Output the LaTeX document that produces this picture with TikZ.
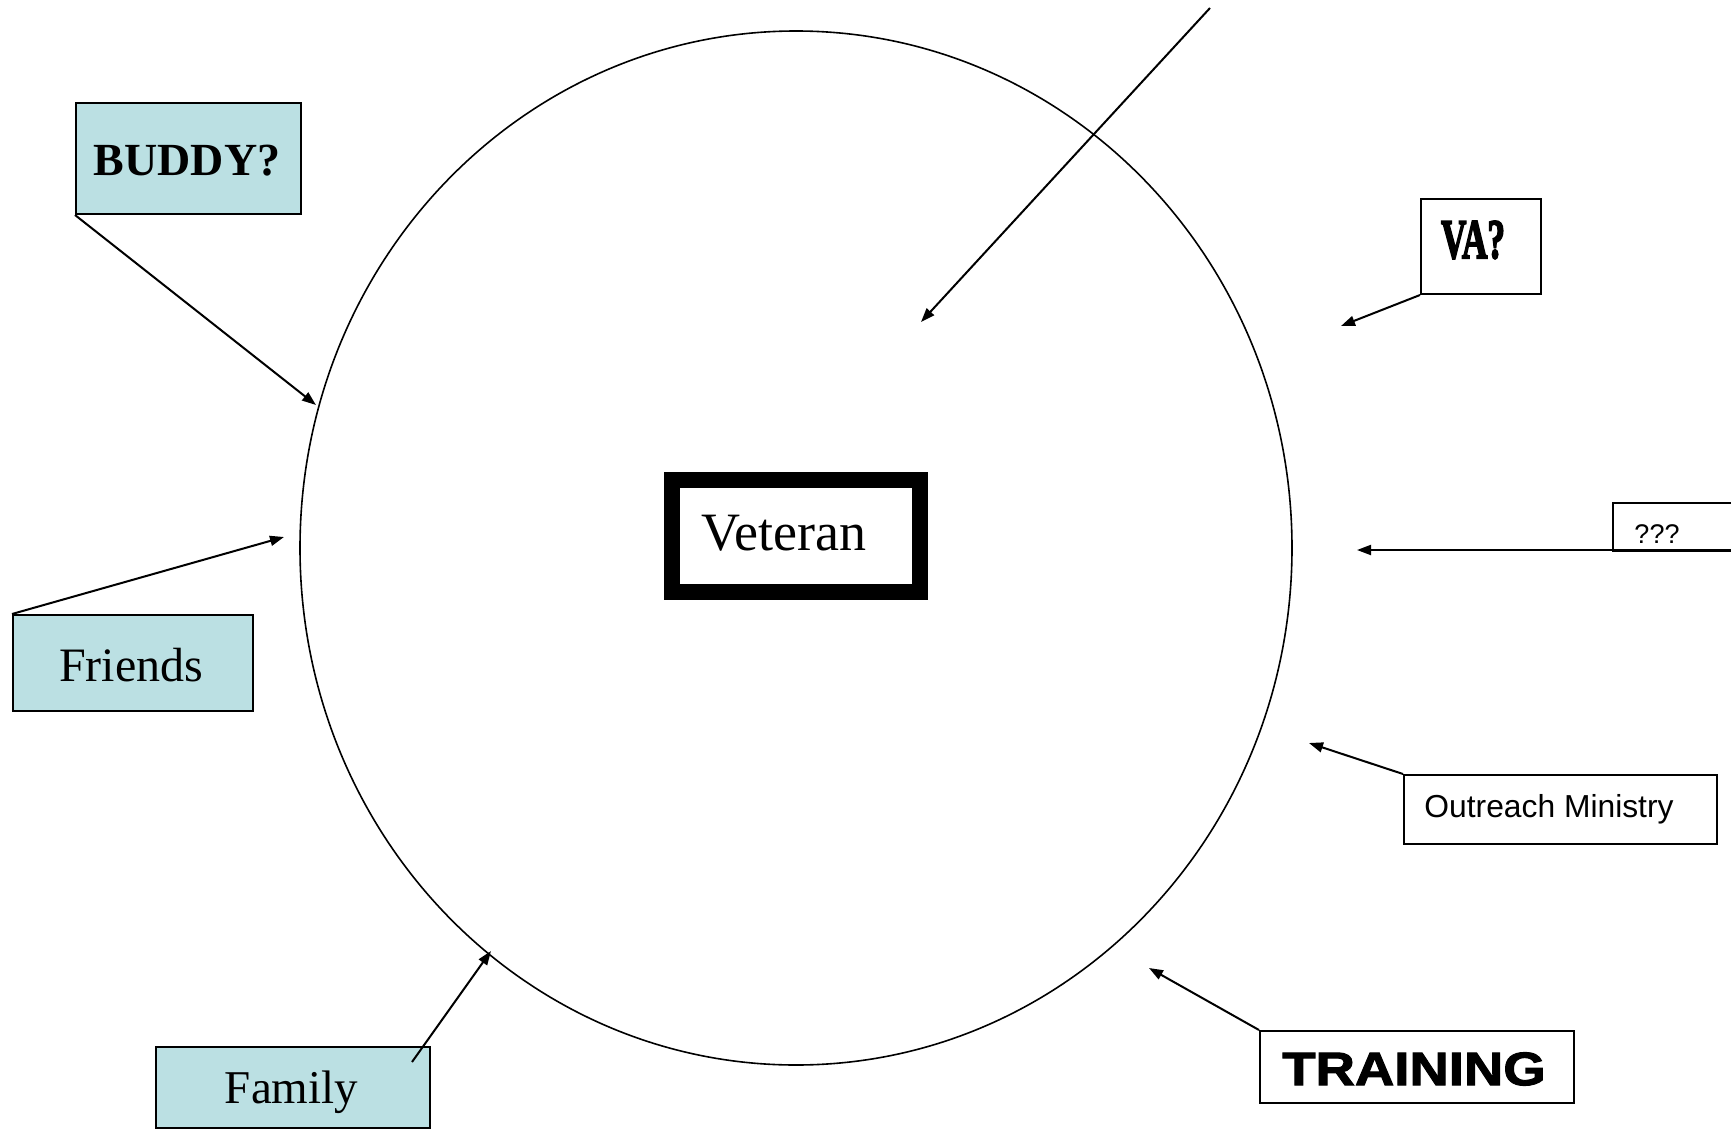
\documentclass[tikz,border=0pt]{standalone}
\usepackage{fontspec}
\setmainfont{Liberation Serif}
\newfontfamily\arialfont{Liberation Sans}
\newfontfamily\blackfont[FakeBold=2]{Liberation Sans Bold}
\newfontfamily\vafont[FakeBold=3.5]{Liberation Serif Bold}
\usetikzlibrary{arrows.meta,shapes.geometric}
\definecolor{boxblue}{RGB}{187,224,227}
\tikzset{
  conn/.style={line width=1pt,-{Triangle[length=7pt,width=5pt]}},
  plainbox/.style={draw,line width=1pt,inner sep=0pt,anchor=north west},
  bluebox/.style={plainbox,fill=boxblue},
  lbl/.style={inner sep=0pt}
}
\begin{document}
\begin{tikzpicture}[x=0.5pt,y=-0.5pt]
\useasboundingbox (0,0) rectangle (1731,1130);
% circle
\node[draw,ellipse,line width=0.8pt,minimum width=496pt,minimum height=517pt,inner sep=0pt] (circ) at (796,548) {};
% Veteran
\node[draw,line width=8pt,minimum width=124pt,minimum height=56pt,inner sep=0pt] (vet) at (796,536) {};
\node[lbl,font=\fontsize{27}{30}\selectfont] (vett) at (784,533) {Veteran};
% BUDDY
\node[bluebox,minimum width=112.5pt,minimum height=55.5pt] (buddy) at (75,102) {};
\node[lbl,font=\fontsize{23}{26}\selectfont\bfseries] (buddyt) at (187,161) {BUDDY?};
% Friends
\node[bluebox,minimum width=120pt,minimum height=48pt] (friends) at (12,614) {};
\node[lbl,font=\fontsize{24}{27}\selectfont] (friendst) at (131,665) {Friends};
% Family
\node[bluebox,minimum width=137pt,minimum height=40.5pt] (family) at (155,1046) {};
\node[lbl,font=\fontsize{23.5}{26}\selectfont] (familyt) at (291.5,1092) {Family};
% VA
\node[plainbox,minimum width=60pt,minimum height=47.5pt] (va) at (1420,198) {};
\node[lbl,font=\fontsize{28}{30}\selectfont\vafont] (vat) at (1473,240) {\scalebox{0.63}[1]{VA?}};
% ???
\node[plainbox,minimum width=80pt,minimum height=24pt] (qq) at (1612,502) {};
\node[lbl,font=\fontsize{13.5}{15}\selectfont\arialfont] (qqt) at (1657,534) {???};
% Outreach
\node[plainbox,minimum width=156.5pt,minimum height=34.5pt] (out) at (1403,774) {};
\node[lbl,font=\fontsize{15.9}{18}\selectfont\arialfont] (outt) at (1549,809) {Outreach Ministry};
% TRAINING
\node[plainbox,minimum width=157pt,minimum height=36pt] (train) at (1259,1030) {};
\node[lbl,font=\fontsize{23.5}{26}\selectfont\blackfont] (traint) at (1414,1069) {\scalebox{1.16}[1]{TRAINING}};
% arrow ends
\coordinate (topstart) at (1210,8);
\coordinate (toptip) at (921,322);
\coordinate (buddytip) at (316,405);
\coordinate (friendstip) at (284,537);
\coordinate (familystart) at (412,1062);
\coordinate (familytip) at (491,951);
\coordinate (vatip) at (1341,326);
\coordinate (qqstart) at (1731,550);
\coordinate (qqtip) at (1357,550);
\coordinate (outtip) at (1309,743);
\coordinate (traintip) at (1149,968);
% connectors
\draw[conn] (topstart) -- (toptip);
\draw[conn] (buddy.south west) -- (buddytip);
\draw[conn] (friends.north west) -- (friendstip);
\draw[conn] (familystart) -- (familytip);
\draw[conn] (va.south west) -- (vatip);
\draw[conn] (qqstart) -- (qqtip);
\draw[conn] (out.north west) -- (outtip);
\draw[conn] (train.north west) -- (traintip);
\end{tikzpicture}
\end{document}
